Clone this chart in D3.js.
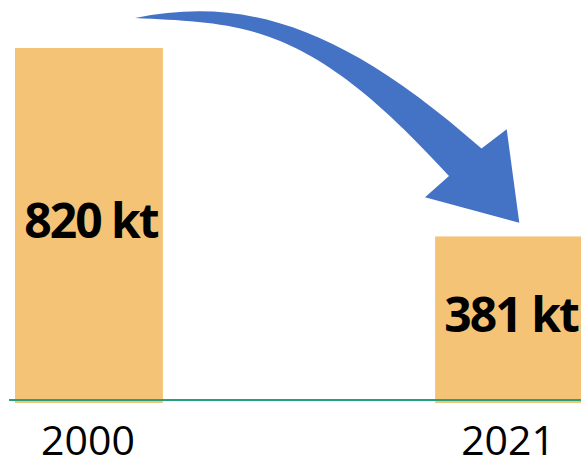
<!DOCTYPE html>
<html>
<head>
<meta charset="utf-8">
<script src="https://cdn.jsdelivr.net/npm/d3@7"></script>
<style>
  body { margin: 0; background: #fff; }
  svg { display: block; }
</style>
</head>
<body>
<div id="chart"></div>
<script>
var width = 581, height = 462;

// data
var years = ["2000", "2021"];
var values = [820, 381];
var valueLabels = ["820 kt", "381 kt"];

var barColor = "#F5C376",
    arrowColor = "#4472C4",
    lineColor = "#25A07C";

var svg = d3.select("#chart").append("svg")
    .attr("width", width)
    .attr("height", height);

var x = d3.scaleBand()
    .domain(years)
    .range([15, 583])
    .paddingInner(0.648)
    .paddingOuter(0);

var y = d3.scaleLinear()
    .domain([0, 820])
    .range([400, 48]);

// bars
svg.selectAll(".bar")
    .data(years)
    .enter().append("rect")
    .attr("class", "bar")
    .attr("x", function (d) { return x(d); })
    .attr("y", function (d, i) { return y(values[i]); })
    .attr("width", x.bandwidth())
    .attr("height", function (d, i) { return y(0) - y(values[i]) + 3; })
    .style("fill", barColor);

// baseline
svg.append("line")
    .attr("x1", 9)
    .attr("x2", width)
    .attr("y1", y(0))
    .attr("y2", y(0))
    .style("stroke", lineColor)
    .style("stroke-width", 2);

// value labels, in the middle of each bar
svg.selectAll(".val")
    .data(years)
    .enter().append("text")
    .attr("class", "val")
    .attr("x", function (d) { return x(d) + x.bandwidth() / 2 + 2; })
    .attr("y", function (d, i) { return (y(values[i]) + y(0)) / 2 + 14; })
    .attr("text-anchor", "middle")
    .style("font-family", "'Open Sans', sans-serif")
    .style("font-weight", "bold")
    .style("font-size", "48px")
    .style("letter-spacing", "-2px")
    .style("fill", "#000")
    .text(function (d, i) { return valueLabels[i]; });

// year labels under the axis line
svg.selectAll(".year")
    .data(years)
    .enter().append("text")
    .attr("class", "year")
    .attr("x", function (d) { return x(d) + x.bandwidth() / 2 - 1; })
    .attr("y", 455)
    .attr("text-anchor", "middle")
    .style("font-family", "'Open Sans', sans-serif")
    .style("font-size", "41px")
    .style("fill", "#000")
    .text(function (d) { return d; });

// curved arrow from the first bar down to the second
var p = d3.path();
p.moveTo(135, 18);
p.bezierCurveTo(245, -4, 341.5, 25.3, 481.5, 148.5);   // upper edge
p.lineTo(506.7, 129.3);
p.lineTo(519.3, 222.7);                                // tip
p.lineTo(425, 197.3);
p.lineTo(449, 176);
p.bezierCurveTo(309, 22, 245, 23.5, 135, 18);          // lower edge back to tail
p.closePath();

svg.append("path")
    .attr("d", p.toString())
    .style("fill", arrowColor);
</script>
</body>
</html>
